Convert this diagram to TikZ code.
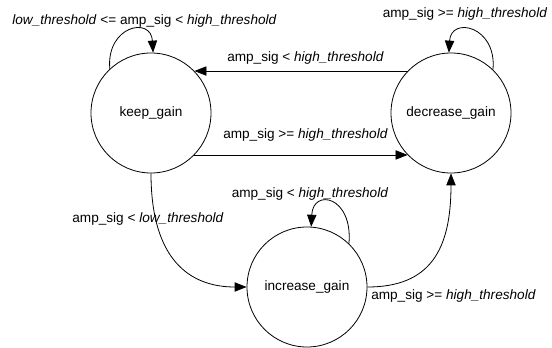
\documentclass[tikz,border=0pt]{standalone}
\usepackage{fontspec}
\setmainfont{Liberation Sans}
\usetikzlibrary{arrows.meta}

\tikzset{
  state/.style={draw, circle, line width=0.6pt, minimum size=90pt, inner sep=0pt},
  trans/.style={line width=0.6pt, -{Triangle[length=9pt,width=7pt]}},
  lbl/.style={anchor=base, inner sep=0pt}
}

\begin{document}
\begin{tikzpicture}[x=0.75pt, y=-0.75pt, font=\fontsize{10.2}{12}\selectfont]
      \useasboundingbox (0,0) rectangle (552,348);

      \node[state] (keep) at (151,113) {keep\_gain};
      \node[state] (dec) at (451,113) {decrease\_gain};
      \node[state] (inc) at (307,287) {increase\_gain};

      % self loops
      \draw[trans] (keep.133) .. controls (106,26) and (151,16) .. (keep.88);
      \node[lbl] (lkeep) at (144.5,25) {\textit{low\_threshold} <= amp\_sig < \textit{high\_threshold}};

      \draw[trans] (dec.46) .. controls (497,26) and (451,16) .. (dec.92);
      \node[lbl] (ldec) at (465,18) {amp\_sig >= \textit{high\_threshold}};

      \draw[trans] (inc.46) .. controls (353,196) and (313,188) .. (inc.86);
      \node[lbl] (linc) at (310,198) {amp\_sig < \textit{high\_threshold}};

      % keep <-> decrease
      \draw[trans] (dec.136) -- (keep.44);
      \node[lbl] (lup) at (305.5,62) {amp\_sig < \textit{high\_threshold}};

      \draw[trans] (keep.-44) -- (dec.224);
      \node[lbl] (ldown) at (305.5,139) {amp\_sig >= \textit{high\_threshold}};

      % via increase
      \draw[trans] (keep.south) .. controls (151,260) and (190,287) .. (inc.west);
      \node[lbl] (lkinc) at (148,223) {amp\_sig < \textit{low\_threshold}};

      \draw[trans] (inc.east) .. controls (430,287) and (451,250) .. (dec.south);
      \node[lbl] (lincd) at (453.5,300) {amp\_sig >= \textit{high\_threshold}};

\end{tikzpicture}
\end{document}
